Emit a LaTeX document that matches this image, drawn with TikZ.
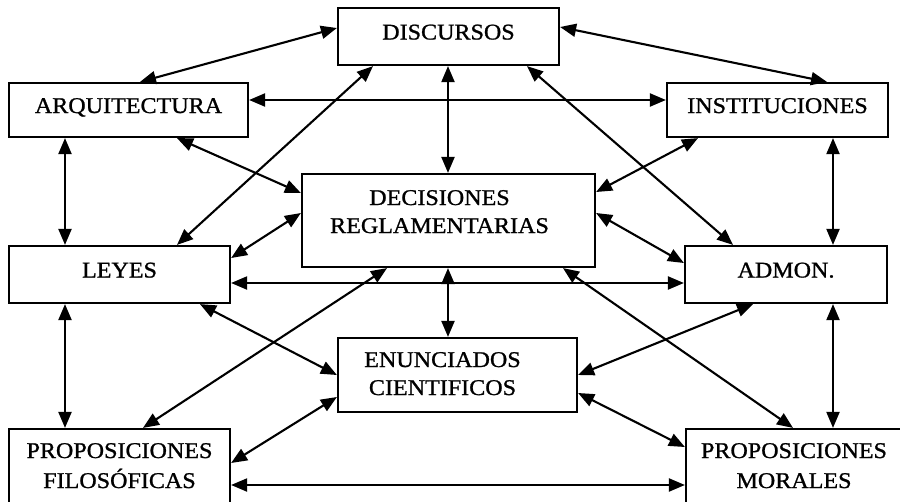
\documentclass[tikz,border=0pt]{standalone}
\usepackage{fontspec}
\setmainfont{Liberation Serif}[FakeStretch=1.07, FakeBold=1]
\usetikzlibrary{arrows.meta}

\tikzset{
  box/.style={draw, line width=2.2pt, inner sep=0pt, align=center,
    font=\fontsize{22.5}{28}\selectfont, text height=10pt, text depth=4pt},
  link/.style={{Triangle[length=16pt,width=13pt]}-{Triangle[length=16pt,width=13pt]},
    line width=2.1pt},
}

\begin{document}
\begin{tikzpicture}[x=1pt, y=-1pt]
    \useasboundingbox (0,0) rectangle (900,501);
    % boxes
    \node[box, minimum width=221pt, minimum height=57pt] (disc) at (448.5,36.5) {DISCURSOS};
    \node[box, minimum width=239pt, minimum height=54pt] (arq) at (128.5,110) {ARQUITECTURA};
    \node[box, minimum width=221pt, minimum height=54pt] (inst) at (777.5,110) {INSTITUCIONES};
    \node[box, minimum width=293pt, minimum height=93pt, text height=30pt, text depth=5pt]
        (dec) at (448.5,220.5) {DECISIONES\hspace*{18pt}\\REGLAMENTARIAS\hspace*{18pt}};
    \node[box, minimum width=221pt, minimum height=57pt] (leyes) at (119.5,274.5) {LEYES};
    \node[box, minimum width=202pt, minimum height=57pt] (admon) at (786,274.5) {ADMON.};
    \node[box, minimum width=239pt, minimum height=74pt, text height=44pt, text depth=4pt]
        (enunc) at (457.5,375) {ENUNCIADOS\hspace*{30pt}\\CIENTIFICOS\hspace*{30pt}};
    \node[box, minimum width=221pt, minimum height=77pt, text height=45pt, text depth=4pt,
        font=\fontsize{22.5}{30}\selectfont] (propfil) at (119.5,467.5) {PROPOSICIONES\\FILOSÓFICAS};
    \node[box, minimum width=216pt, minimum height=77pt, text height=45pt, text depth=4pt,
        font=\fontsize{22.5}{30}\selectfont] (propmor) at (794,467.5) {PROPOSICIONES\\MORALES};
    % links
    \draw[link] (disc.west |- 0,28) -- (arq.north -| 140,0);
    \draw[link] (disc.east |- 0,27) -- (inst.north -| 827,0);
    \draw[link] (arq.east |- 0,100) -- (inst.west |- 0,100);
    \draw[link] (arq.south -| 65,0) -- (leyes.north -| 65,0);
    \draw[link] (inst.south -| 833,0) -- (admon.north -| 833,0);
    \draw[link] (disc.south -| 448,0) -- (dec.north -| 448,0);
    \draw[link] (disc.south -| 373,0) -- (leyes.north -| 177,0);
    \draw[link] (disc.south -| 527,0) -- (admon.north -| 733,0);
    \draw[link] (arq.south -| 177,0) -- (dec.west |- 0,193);
    \draw[link] (inst.south -| 698,0) -- (dec.east |- 0,192);
    \draw[link] (leyes.east |- 0,258) -- (dec.west |- 0,213);
    \draw[link] (admon.west |- 0,263) -- (dec.east |- 0,213);
    \draw[link] (leyes.east |- 0,283) -- (admon.west |- 0,283);
    \draw[link] (dec.south -| 448,0) -- (enunc.north -| 448,0);
    \draw[link] (dec.south -| 387,0) -- (propfil.north -| 143,0);
    \draw[link] (dec.south -| 563,0) -- (propmor.north -| 793,0);
    \draw[link] (leyes.south -| 200,0) -- (enunc.west |- 0,375);
    \draw[link] (admon.south -| 753,0) -- (enunc.east |- 0,375);
    \draw[link] (leyes.south -| 65,0) -- (propfil.north -| 65,0);
    \draw[link] (admon.south -| 833,0) -- (propmor.north -| 833,0);
    \draw[link] (propfil.east |- 0,463) -- (enunc.west |- 0,397);
    \draw[link] (propmor.west |- 0,447) -- (enunc.east |- 0,393);
    \draw[link] (propfil.east |- 0,485) -- (propmor.west |- 0,485);
\end{tikzpicture}
\end{document}
